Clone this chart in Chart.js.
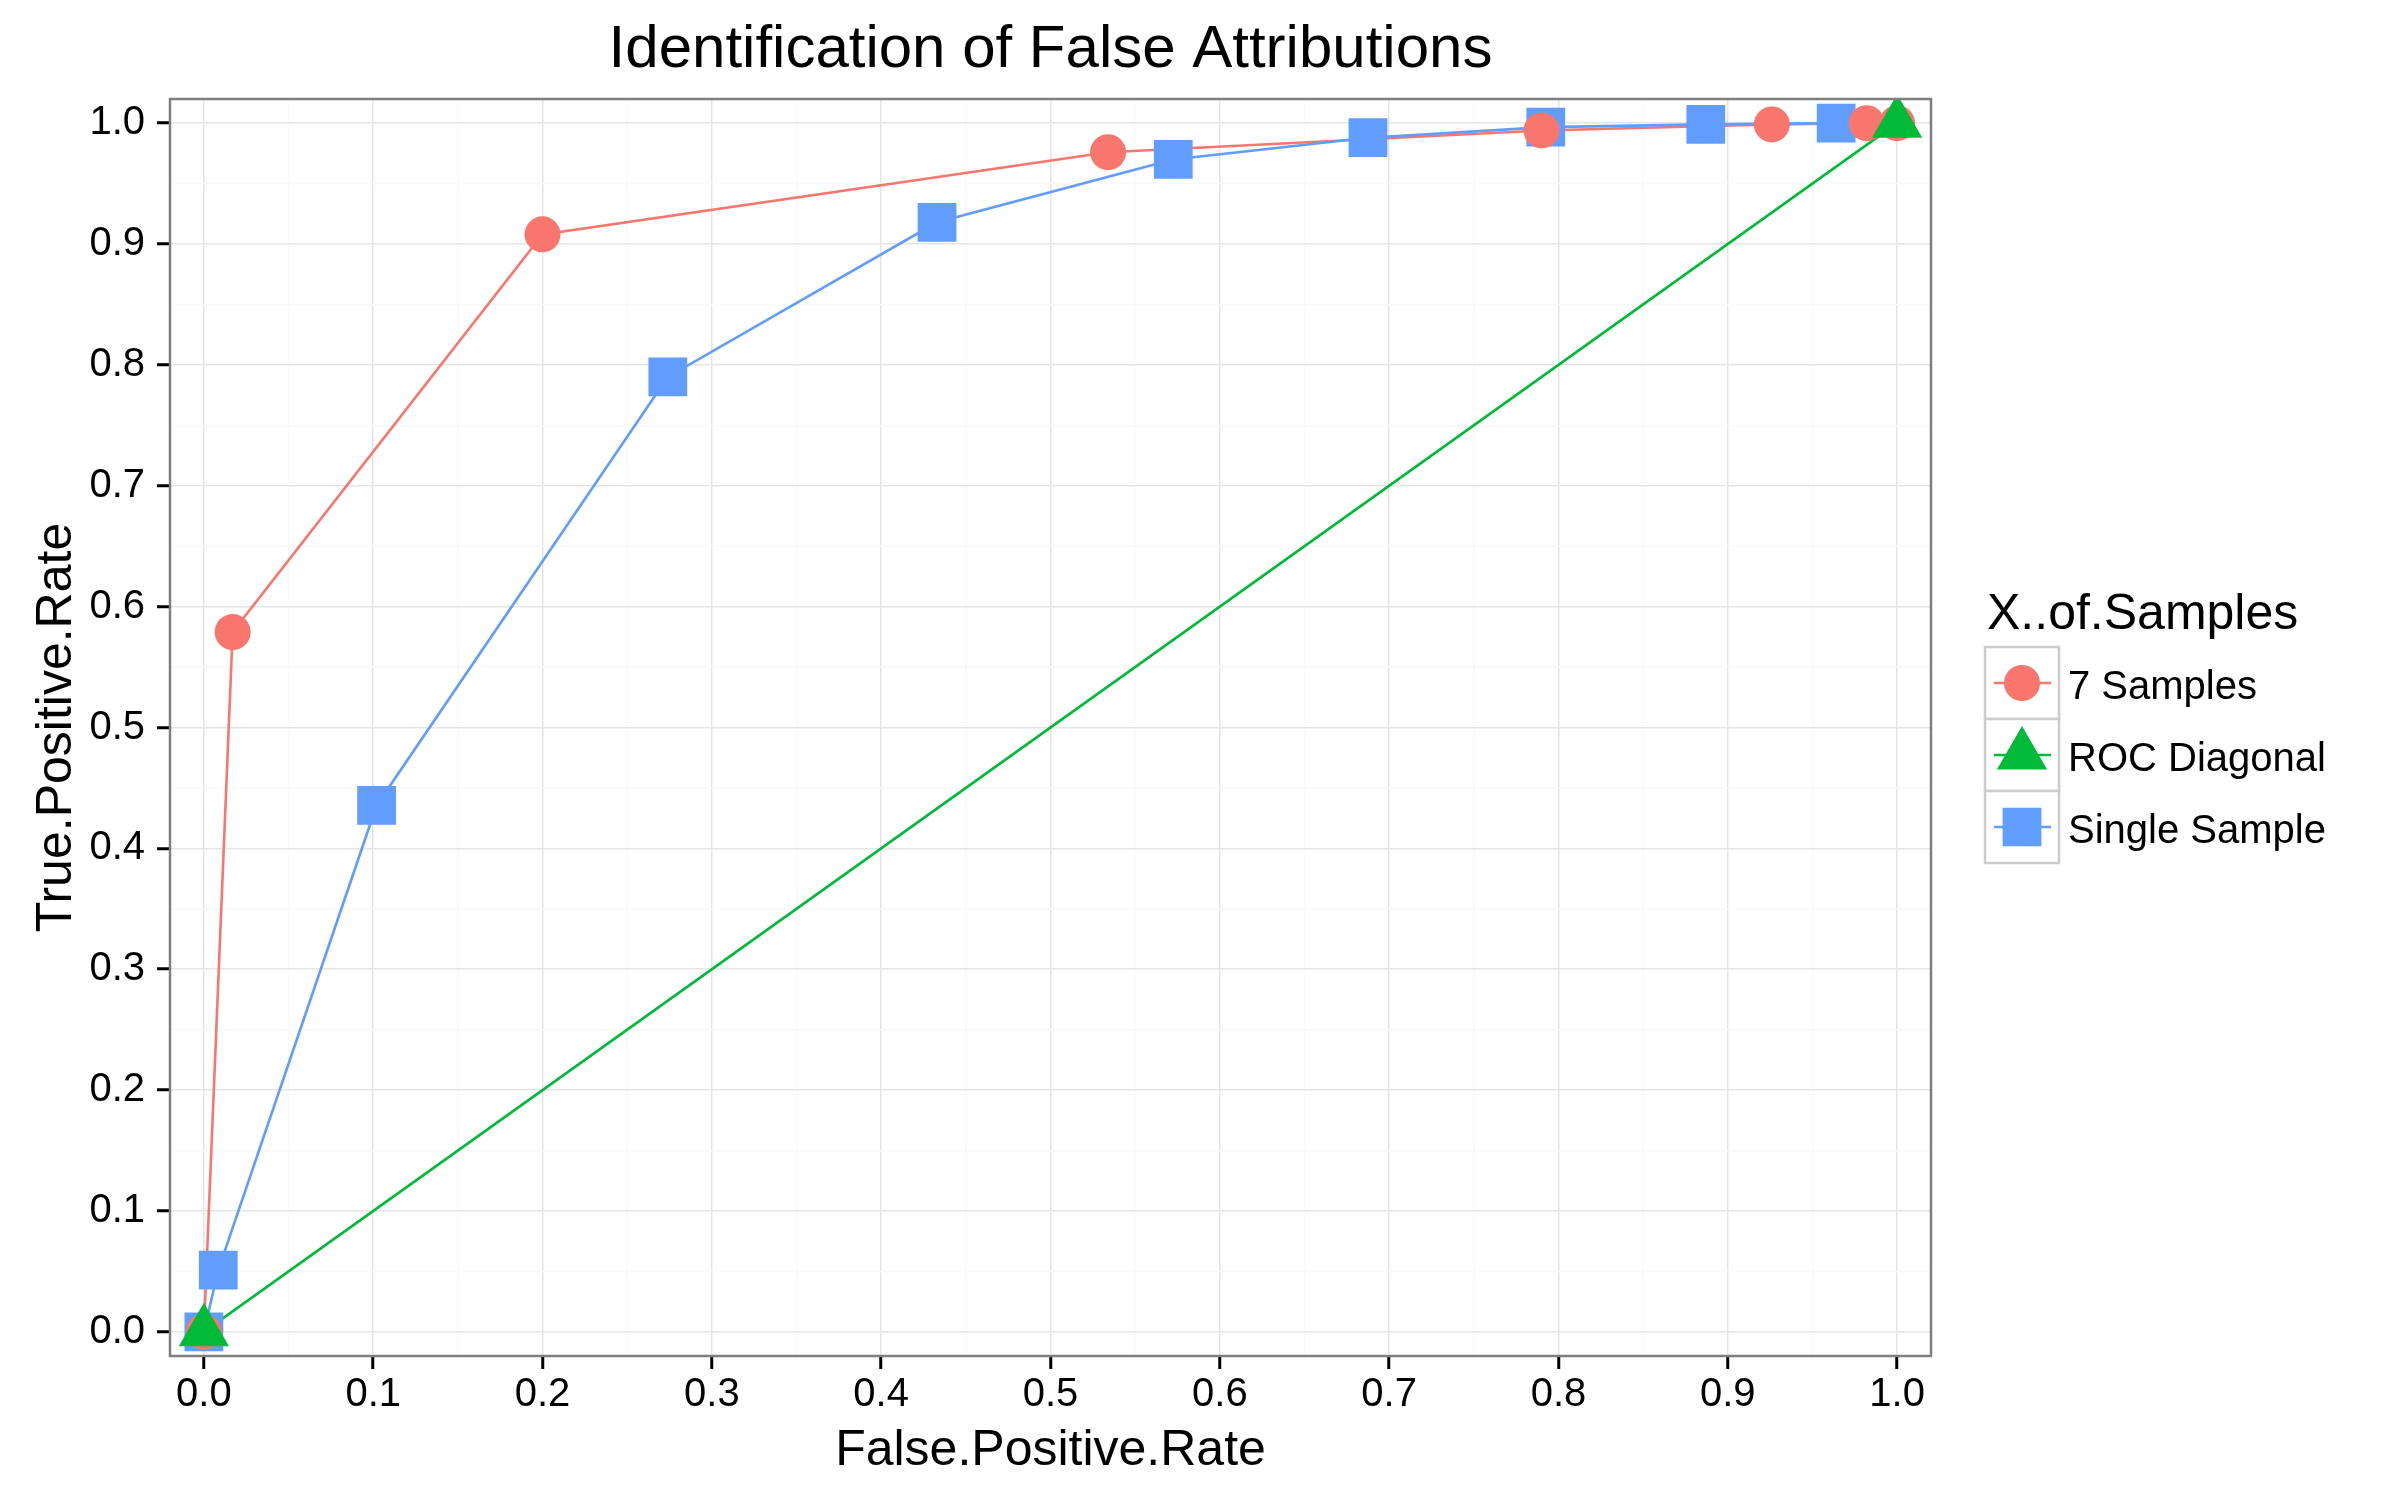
<!DOCTYPE html>
<html>
<head>
<meta charset="utf-8">
<script src="https://cdn.jsdelivr.net/npm/chart.js@4.4.0/dist/chart.umd.min.js"></script>
<style>
html,body{margin:0;padding:0;background:#fff}
#wrap{width:2400px;height:1500px}
</style>
</head>
<body>
<div id="wrap"><canvas id="roc" width="2400" height="1500"></canvas></div>
<script>
// values
const sevenFPR = [0, 0.017, 0.200, 0.534, 0.790, 0.926, 0.982, 1.0]
const sevenTPR = [0, 0.579, 0.908, 0.976, 0.994, 0.999, 1.0, 1.0]

const singleFPR = [0, 0.0085, 0.102, 0.274, 0.433, 0.5725, 0.6875, 0.7925, 0.887, 0.964]
const singleTPR = [0, 0.051, 0.4355, 0.790, 0.918, 0.970, 0.988, 0.9967, 0.999, 1.0]

const diagFPR = [0, 1]
const diagTPR = [0, 1]

const seriesNames = ["7 Samples", "ROC Diagonal", "Single Sample"]
const seriesColors = ["#F8766D", "#00BA38", "#619CFF"]
const seriesShapes = ["circle", "triangle", "rect"]
const seriesRadius = [18, 29, 27.4]

const FONT = "'Liberation Sans', Arial, sans-serif"
Chart.defaults.font.family = FONT

function pts(xs, ys){
  return xs.map((x, i) => ({x: x, y: ys[i]}))
}

function isMajor(v){
  return Math.abs(Math.round(v * 10) - v * 10) < 1e-6
}

const lineSets = [
  {xs: sevenFPR, ys: sevenTPR, k: 0, order: 6},
  {xs: diagFPR, ys: diagTPR, k: 1, order: 5},
  {xs: singleFPR, ys: singleTPR, k: 2, order: 4}
].map(s => ({
  label: seriesNames[s.k] + " line",
  data: pts(s.xs, s.ys),
  showLine: true,
  borderColor: seriesColors[s.k],
  borderWidth: 2.6,
  pointRadius: 0,
  pointHoverRadius: 0,
  fill: false,
  order: s.order
}))

const pointSets = [
  {xs: singleFPR, ys: singleTPR, k: 2, order: 3},
  {xs: sevenFPR, ys: sevenTPR, k: 0, order: 2},
  {xs: diagFPR, ys: diagTPR, k: 1, order: 1}
].map(s => ({
  label: seriesNames[s.k],
  data: pts(s.xs, s.ys),
  showLine: false,
  pointStyle: seriesShapes[s.k],
  pointRadius: seriesRadius[s.k],
  pointHoverRadius: seriesRadius[s.k],
  pointBackgroundColor: seriesColors[s.k],
  pointBorderWidth: 0,
  order: s.order
}))

// grey panel border drawn over the data, like ggplot
const panelBorder = {
  id: "panelBorder",
  afterDatasetsDraw(chart){
    const a = chart.chartArea
    const c = chart.ctx
    c.save()
    c.strokeStyle = "#7F7F7F"
    c.lineWidth = 2.5
    c.strokeRect(a.left, a.top, a.right - a.left, a.bottom - a.top)
    c.restore()
  }
}

// ggplot style legend on the right
const rocLegend = {
  id: "rocLegend",
  afterDraw(chart){
    const c = chart.ctx
    const boxX = 1985, boxW = 74, rowH = 72, top0 = 647
    c.save()
    c.fillStyle = "#000"
    c.font = "50px " + FONT
    c.textAlign = "left"
    c.textBaseline = "alphabetic"
    c.fillText("X..of.Samples", 1987, 629)

    seriesNames.forEach((name, i) => {
      const top = top0 + i * rowH
      const cy = top + rowH / 2
      const cx = boxX + boxW / 2
      c.fillStyle = "#fff"
      c.fillRect(boxX, top, boxW, rowH)
      c.strokeStyle = "#CCCCCC"
      c.lineWidth = 2.5
      c.strokeRect(boxX, top, boxW, rowH)

      c.strokeStyle = seriesColors[i]
      c.lineWidth = 2.6
      c.beginPath()
      c.moveTo(boxX + 9, cy)
      c.lineTo(boxX + boxW - 8, cy)
      c.stroke()

      c.fillStyle = seriesColors[i]
      Chart.helpers.drawPoint(c, {pointStyle: seriesShapes[i], radius: seriesRadius[i], rotation: 0, borderWidth: 0}, cx, cy)

      c.fillStyle = "#000"
      c.font = "40px " + FONT
      c.textBaseline = "middle"
      c.fillText(name, 2068, cy + 5)
    })
    c.restore()
  }
}

function axisOpts(title, isX){
  return {
    type: "linear",
    min: -0.02,
    max: 1.02,
    border: {display: false},
    grid: {
      color: ctx => isMajor(ctx.tick.value) ? "#E5E5E5" : "#FAFAFA",
      lineWidth: 1.5,
      drawTicks: true,
      tickLength: 13,
      tickWidth: 3,
      tickColor: ctx => isMajor(ctx.tick.value) ? "#000" : "rgba(0,0,0,0)"
    },
    ticks: {
      stepSize: 0.05,
      includeBounds: false,
      autoSkip: false,
      maxRotation: 0,
      padding: isX ? 2 : 12,
      color: "#000",
      font: {size: 40},
      callback: v => isMajor(v) ? v.toFixed(1) : ""
    },
    title: {
      display: true,
      text: title,
      color: "#000",
      font: {size: 50},
      padding: isX ? {top: 0, bottom: 19} : {top: 27, bottom: 0}
    },
    afterFit(scale){
      if (isX) scale.height = 144
      else scale.width = 170
    }
  }
}

const ctx = document.getElementById("roc").getContext("2d")

const rocChart = new Chart(ctx, {
  type: "scatter",
  data: {
    datasets: lineSets.concat(pointSets)
  },
  options: {
    responsive: false,
    animation: false,
    devicePixelRatio: 1,
    layout: {
      padding: {left: 0, right: 469, top: 0, bottom: 0}
    },
    scales: {
      x: axisOpts("False.Positive.Rate", true),
      y: axisOpts("True.Positive.Rate", false)
    },
    plugins: {
      legend: {display: false},
      tooltip: {enabled: false},
      title: {
        display: true,
        text: "Identification of False Attributions",
        color: "#000",
        fullSize: false,
        font: {size: 60, weight: "normal"},
        padding: {top: 14, bottom: 13}
      }
    }
  },
  plugins: [panelBorder, rocLegend]
})
</script>
</body>
</html>
